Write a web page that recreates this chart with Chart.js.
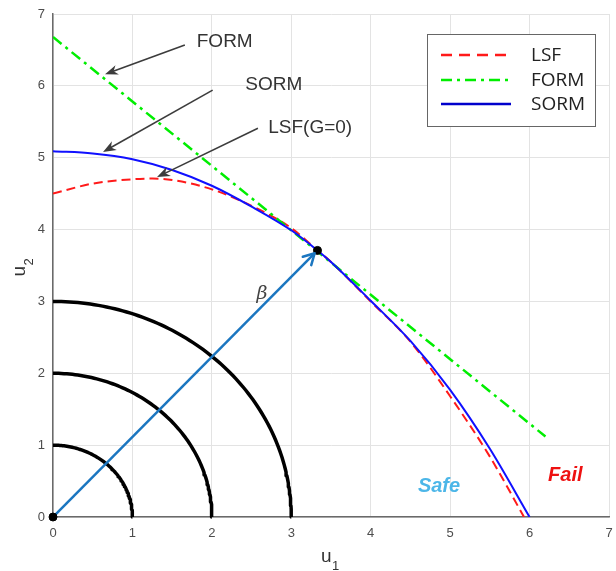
<!DOCTYPE html>
<html>
<head>
<meta charset="utf-8">
<script src="https://cdn.jsdelivr.net/npm/chart.js@4/dist/chart.umd.min.js"></script>
<style>
html,body{margin:0;padding:0;background:#fff;}
#wrap{width:616px;height:571px;}
</style>
</head>
<body>
<div id="wrap"><canvas id="c" width="616" height="571"></canvas></div>
<script>
// ---- data ----
const lsfU1  = [0, 0.5, 1.0, 1.25, 1.5, 2.0, 2.5, 3.0, 3.33, 3.5, 4.0, 4.5, 5.0, 5.5, 5.93];
const lsfU2  = [4.50, 4.64, 4.70, 4.71, 4.69, 4.56, 4.33, 4.02, 3.71, 3.55, 3.00, 2.44, 1.68, 0.84, 0];
const sormU1 = [0, 0.5, 1.0, 1.5, 2.0, 2.5, 3.0, 3.33, 3.5, 4.0, 4.5, 5.0, 5.5, 6.0];
const sormU2 = [5.09, 5.06, 4.98, 4.83, 4.61, 4.32, 3.99, 3.71, 3.55, 3.01, 2.45, 1.77, 0.95, 0];
const formU1 = [0, 6.2];
const formU2 = [6.68, 1.12];
const designPoint = [3.33, 3.71];
const origin = [0, 0];
const contourRadii = [1, 2, 3];
const xTicks = [0, 1, 2, 3, 4, 5, 6, 7];
const yTicks = [0, 1, 2, 3, 4, 5, 6, 7];
const legendLabels = ['LSF', 'FORM', 'SORM'];
// annotation anchors in data units: [textX, textY, arrowStartX, arrowStartY, tipX, tipY]
const annotationTexts = ['FORM', 'SORM', 'LSF(G=0)'];
const annotationAnchors = [
  [1.81, 6.61, 1.66, 6.57, 0.655, 6.16],
  [2.42, 6.01, 2.01, 5.94, 0.63, 5.08],
  [2.71, 5.41, 2.58, 5.41, 1.31, 4.73]
];
const regionLabels = ['Safe', 'Fail'];
const regionPos = [[4.86, 0.42], [6.45, 0.58]];
const betaLabelPos = [2.63, 3.10];

const zip = (a, b) => a.map((v, i) => ({x: v, y: b[i]}));

function arcPoints(r) {
  const pts = [];
  const n = 90;
  for (let i = 0; i <= n; i++) {
    const t = (Math.PI / 2) * i / n;
    pts.push({x: r * Math.cos(t), y: r * Math.sin(t)});
  }
  return pts;
}

const colors = {lsf: '#ff1a1a', form: '#00ee00', sorm: '#1010ff', beta: '#1b76c0'};

const datasets = [];
contourRadii.forEach(r => datasets.push({
  label: 'r' + r, data: arcPoints(r), showLine: true, borderColor: '#000', borderWidth: 3.5,
  borderJoinStyle: 'round', pointRadius: 0, tension: 0, order: 6, clip: false
}));
datasets.push({label: 'beta', data: [{x: origin[0], y: origin[1]}, {x: designPoint[0], y: designPoint[1]}],
  showLine: true, borderColor: colors.beta, borderWidth: 2.5, pointRadius: 0, order: 5});
datasets.push({label: 'LSF', data: zip(lsfU1, lsfU2), showLine: true, borderColor: colors.lsf, borderWidth: 2,
  borderDash: [9, 5], pointRadius: 0, cubicInterpolationMode: 'monotone', order: 4});
datasets.push({label: 'FORM', data: zip(formU1, formU2), showLine: true, borderColor: colors.form, borderWidth: 2.5,
  borderDash: [11, 5, 3, 5], pointRadius: 0, order: 3});
datasets.push({label: 'SORM', data: zip(sormU1, sormU2), showLine: true, borderColor: colors.sorm, borderWidth: 2,
  pointRadius: 0, cubicInterpolationMode: 'monotone', order: 2});
datasets.push({label: 'pts', data: [{x: origin[0], y: origin[1]}, {x: designPoint[0], y: designPoint[1]}],
  showLine: false, pointRadius: 4, pointBackgroundColor: '#000', pointBorderColor: '#000', order: 1, clip: false});

function arrowHead(ctx, x0, y0, x1, y1, len, half) {
  const a = Math.atan2(y1 - y0, x1 - x0);
  ctx.beginPath();
  ctx.moveTo(x1, y1);
  ctx.lineTo(x1 - len * Math.cos(a) + half * Math.sin(a), y1 - len * Math.sin(a) - half * Math.cos(a));
  ctx.lineTo(x1 - len * 0.7 * Math.cos(a), y1 - len * 0.7 * Math.sin(a));
  ctx.lineTo(x1 - len * Math.cos(a) - half * Math.sin(a), y1 - len * Math.sin(a) + half * Math.cos(a));
  ctx.closePath();
  ctx.fill();
}

const overlay = {
  id: 'overlay',
  afterDatasetsDraw(chart) {
    const ctx = chart.ctx, xs = chart.scales.x, ys = chart.scales.y;
    const px = v => xs.getPixelForValue(v), py = v => ys.getPixelForValue(v);
    ctx.save();
    // beta arrowhead (open V)
    {
      const x0 = px(origin[0]), y0 = py(origin[1]), x1 = px(designPoint[0]), y1 = py(designPoint[1]);
      const a = Math.atan2(y1 - y0, x1 - x0);
      ctx.strokeStyle = colors.beta; ctx.lineWidth = 2.5; ctx.lineCap = 'round';
      ctx.beginPath();
      ctx.moveTo(x1 - 4 * Math.cos(a), y1 - 4 * Math.sin(a));
      ctx.lineTo(x1 - 16 * Math.cos(a - 0.38), y1 - 16 * Math.sin(a - 0.38));
      ctx.moveTo(x1 - 4 * Math.cos(a), y1 - 4 * Math.sin(a));
      ctx.lineTo(x1 - 16 * Math.cos(a + 0.38), y1 - 16 * Math.sin(a + 0.38));
      ctx.stroke();
    }
    // beta label
    ctx.fillStyle = '#444';
    ctx.font = 'italic 19px "DejaVu Serif", serif';
    ctx.textAlign = 'center'; ctx.textBaseline = 'middle';
    ctx.fillText('β', px(betaLabelPos[0]), py(betaLabelPos[1]));
    // annotation arrows
    ctx.strokeStyle = '#3c3c3c'; ctx.fillStyle = '#3c3c3c'; ctx.lineWidth = 1.6; ctx.lineCap = 'butt';
    annotationAnchors.forEach((a, i) => {
      const sx = px(a[2]), sy = py(a[3]), tx = px(a[4]), ty = py(a[5]);
      const ang = Math.atan2(ty - sy, tx - sx);
      ctx.beginPath(); ctx.moveTo(sx, sy); ctx.lineTo(tx - 8 * Math.cos(ang), ty - 8 * Math.sin(ang)); ctx.stroke();
      arrowHead(ctx, sx, sy, tx, ty, 13, 5);
      ctx.font = '19px "Liberation Sans", Arial, sans-serif';
      ctx.textAlign = 'left'; ctx.textBaseline = 'middle';
      ctx.fillStyle = '#333';
      ctx.fillText(annotationTexts[i], px(a[0]), py(a[1]));
      ctx.fillStyle = '#3c3c3c';
    });
    // region labels
    ctx.font = 'italic bold 20px "Liberation Sans", Arial, sans-serif';
    ctx.textAlign = 'center'; ctx.textBaseline = 'middle';
    ctx.fillStyle = '#4cb6e8';
    ctx.fillText(regionLabels[0], px(regionPos[0][0]), py(regionPos[0][1]));
    ctx.fillStyle = '#ee1111';
    ctx.fillText(regionLabels[1], px(regionPos[1][0]), py(regionPos[1][1]));
    // legend
    const lx = 427.5, ly = 34.5, lw = 168, lh = 92;
    ctx.fillStyle = '#fff'; ctx.fillRect(lx, ly, lw, lh);
    ctx.strokeStyle = '#666'; ctx.lineWidth = 1; ctx.setLineDash([]);
    ctx.strokeRect(lx, ly, lw, lh);
    const styles = [
      {c: colors.lsf, d: [11, 7], w: 2.5},
      {c: colors.form, d: [11, 5, 3, 5], w: 2.5},
      {c: '#0000cc', d: [], w: 2.5}
    ];
    const rowY = [55, 80, 104];
    legendLabels.forEach((t, i) => {
      ctx.strokeStyle = styles[i].c; ctx.lineWidth = styles[i].w; ctx.setLineDash(styles[i].d);
      ctx.beginPath(); ctx.moveTo(441, rowY[i]); ctx.lineTo(i === 2 ? 511 : 508, rowY[i]); ctx.stroke();
      ctx.setLineDash([]);
      ctx.fillStyle = '#222';
      ctx.font = '19px "Open Sans", "Noto Sans", sans-serif';
      ctx.textAlign = 'left'; ctx.textBaseline = 'middle';
      ctx.fillText(t, 531, rowY[i] + 1);
    });
    // axis titles u1 and u2
    ctx.fillStyle = '#333';
    ctx.textBaseline = 'alphabetic'; ctx.textAlign = 'left';
    const cx = (chart.chartArea.left + chart.chartArea.right) / 2;
    ctx.font = '19px "Liberation Sans", Arial, sans-serif';
    ctx.fillText('u', cx - 10, 562);
    ctx.font = '13px "Liberation Sans", Arial, sans-serif';
    ctx.fillText('1', cx + 1, 570);
    const cy = (chart.chartArea.top + chart.chartArea.bottom) / 2;
    ctx.translate(25, cy + 11);
    ctx.rotate(-Math.PI / 2);
    ctx.font = '19px "Liberation Sans", Arial, sans-serif';
    ctx.fillText('u', 0, 0);
    ctx.font = '13px "Liberation Sans", Arial, sans-serif';
    ctx.fillText('2', 11, 8);
    ctx.restore();
  }
};

Chart.defaults.font.family = '"Liberation Sans", Arial, sans-serif';
new Chart(document.getElementById('c'), {
  type: 'scatter',
  data: {datasets},
  options: {
    responsive: false, animation: false, devicePixelRatio: 1,
    layout: {padding: {top: 14, right: 7, left: 0, bottom: 0}},
    plugins: {legend: {display: false}, tooltip: {enabled: false}},
    scales: {
      x: {
        type: 'linear', min: 0, max: 7,
        afterBuildTicks: s => { s.ticks = xTicks.map(v => ({value: v})); },
        afterFit: s => { s.height = 54; s.paddingLeft = 0; s.paddingRight = 0; },
        grid: {color: '#e3e3e3', lineWidth: 1, drawTicks: false},
        border: {color: '#6a6a6a', width: 1.5},
        ticks: {color: '#4d4d4d', font: {size: 13}, padding: 9, maxRotation: 0}
      },
      y: {
        type: 'linear', min: 0, max: 7,
        afterBuildTicks: s => { s.ticks = yTicks.map(v => ({value: v})); },
        afterFit: s => { s.width = 53; s.paddingTop = 0; s.paddingBottom = 0; },
        grid: {color: '#e3e3e3', lineWidth: 1, drawTicks: false},
        border: {color: '#6a6a6a', width: 1.5},
        ticks: {color: '#4d4d4d', font: {size: 13}, padding: 8}
      }
    }
  },
  plugins: [overlay]
});
</script>
</body>
</html>
